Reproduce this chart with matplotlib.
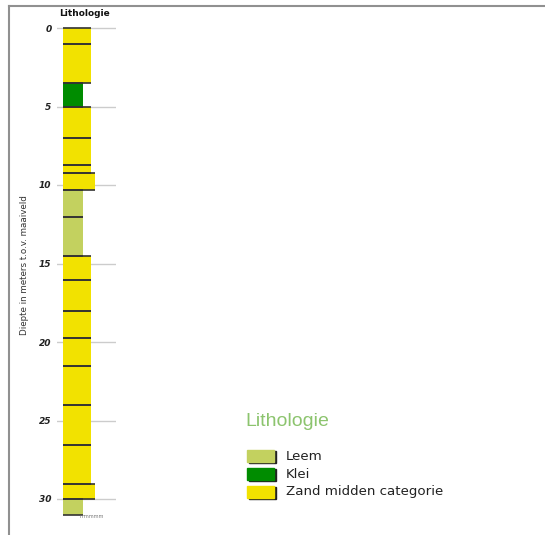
import matplotlib
matplotlib.use("Agg")
import matplotlib.pyplot as plt
from matplotlib.lines import Line2D
from matplotlib.patches import Rectangle

# ---- data ----
layer_tops = [0.0, 1.0, 3.5, 5.0, 7.0, 8.75, 9.25, 10.35, 12.05, 14.5,
              16.05, 18.0, 19.75, 21.55, 24.0, 26.55, 29.05, 30.0]
layer_bottoms = layer_tops[1:] + [31.05]
layer_litho = ["Zand", "Zand", "Klei", "Zand", "Zand", "Zand", "Zand", "Leem", "Leem", "Zand",
               "Zand", "Zand", "Zand", "Zand", "Zand", "Zand", "Zand", "Leem"]
layer_width = [1.0, 1.0, 0.71, 1.0, 1.0, 1.0, 1.14, 0.71, 0.71, 1.0,
               1.0, 1.0, 1.0, 1.0, 1.0, 1.0, 1.14, 0.71]
depth_ticks = [0, 5, 10, 15, 20, 25, 30]
legend_labels = ["Leem", "Klei", "Zand midden categorie"]
legend_keys = ["Leem", "Klei", "Zand"]
colors = {"Leem": "#c3d15f", "Klei": "#008c00", "Zand": "#f2e200"}

W, H = 545, 535
fig = plt.figure(figsize=(W / 100, H / 100), dpi=100)

def fx(px):
    return px / W

def fy(py):
    return 1 - py / H

# outer frame lines
fig.add_artist(Line2D([fx(9), fx(9)], [fy(6), fy(535)], color="#909090", lw=1.5))
fig.add_artist(Line2D([fx(9), fx(545)], [fy(6), fy(6)], color="#909090", lw=1.5))

# column axes: x 57..116 px, y 6..535 px
ax = fig.add_axes([fx(57), fy(535), fx(116 - 57), (535 - 6) / H])
px_per_m = (499 - 28) / 30.0
ax.set_ylim((535 - 28) / px_per_m, (6 - 28) / px_per_m)
ax.set_xlim(-6 / 28, 53 / 28)
for s in ax.spines.values():
    s.set_visible(False)
ax.set_xticks([])
ax.set_yticks(depth_ticks)
ax.set_yticklabels([str(t) for t in depth_ticks], fontsize=6.5, fontweight="bold",
                   fontstyle="italic", color="#222222")
ax.tick_params(axis="y", length=0, pad=4)
ax.grid(axis="y", color="#cccccc", lw=1.0)
ax.set_axisbelow(True)
ax.patch.set_alpha(0)

for top, bot, lit, w in zip(layer_tops, layer_bottoms, layer_litho, layer_width):
    ax.bar(0, bot - top, bottom=top, width=w, align="edge", color=colors[lit],
           edgecolor="none", zorder=2)
    ax.hlines([top, bot], 0, w, color="#333333", lw=1.2, zorder=3)

fig.text(fx(84), fy(14), "Lithologie", fontsize=6.5, fontweight="bold",
         ha="center", va="center", color="#111111")
fig.text(fx(25), fy(265), "Diepte in meters t.o.v. maaiveld", fontsize=6.3,
         rotation=90, ha="center", va="center", color="#333333")
fig.text(fx(92), fy(516), "mmmmm", fontsize=3.5, ha="center", va="center", color="#777777")

# legend
fig.text(fx(245), fy(422), "Lithologie", fontsize=14, color="#8cc46e",
         ha="left", va="center", family="Liberation Sans")
ys = [456, 474, 492]
for y, lab, key in zip(ys, legend_labels, legend_keys):
    fig.add_artist(Rectangle((fx(249), fy(y + 7)), fx(27), 12 / H, color="#222222",
                             transform=fig.transFigure))
    fig.add_artist(Rectangle((fx(247), fy(y + 6)), fx(27), 12 / H, color=colors[key],
                             transform=fig.transFigure))
    fig.text(fx(286), fy(y), lab, fontsize=9.6, color="#222222", ha="left", va="center",
             family="DejaVu Sans")

fig.savefig("out.png", dpi=100)
